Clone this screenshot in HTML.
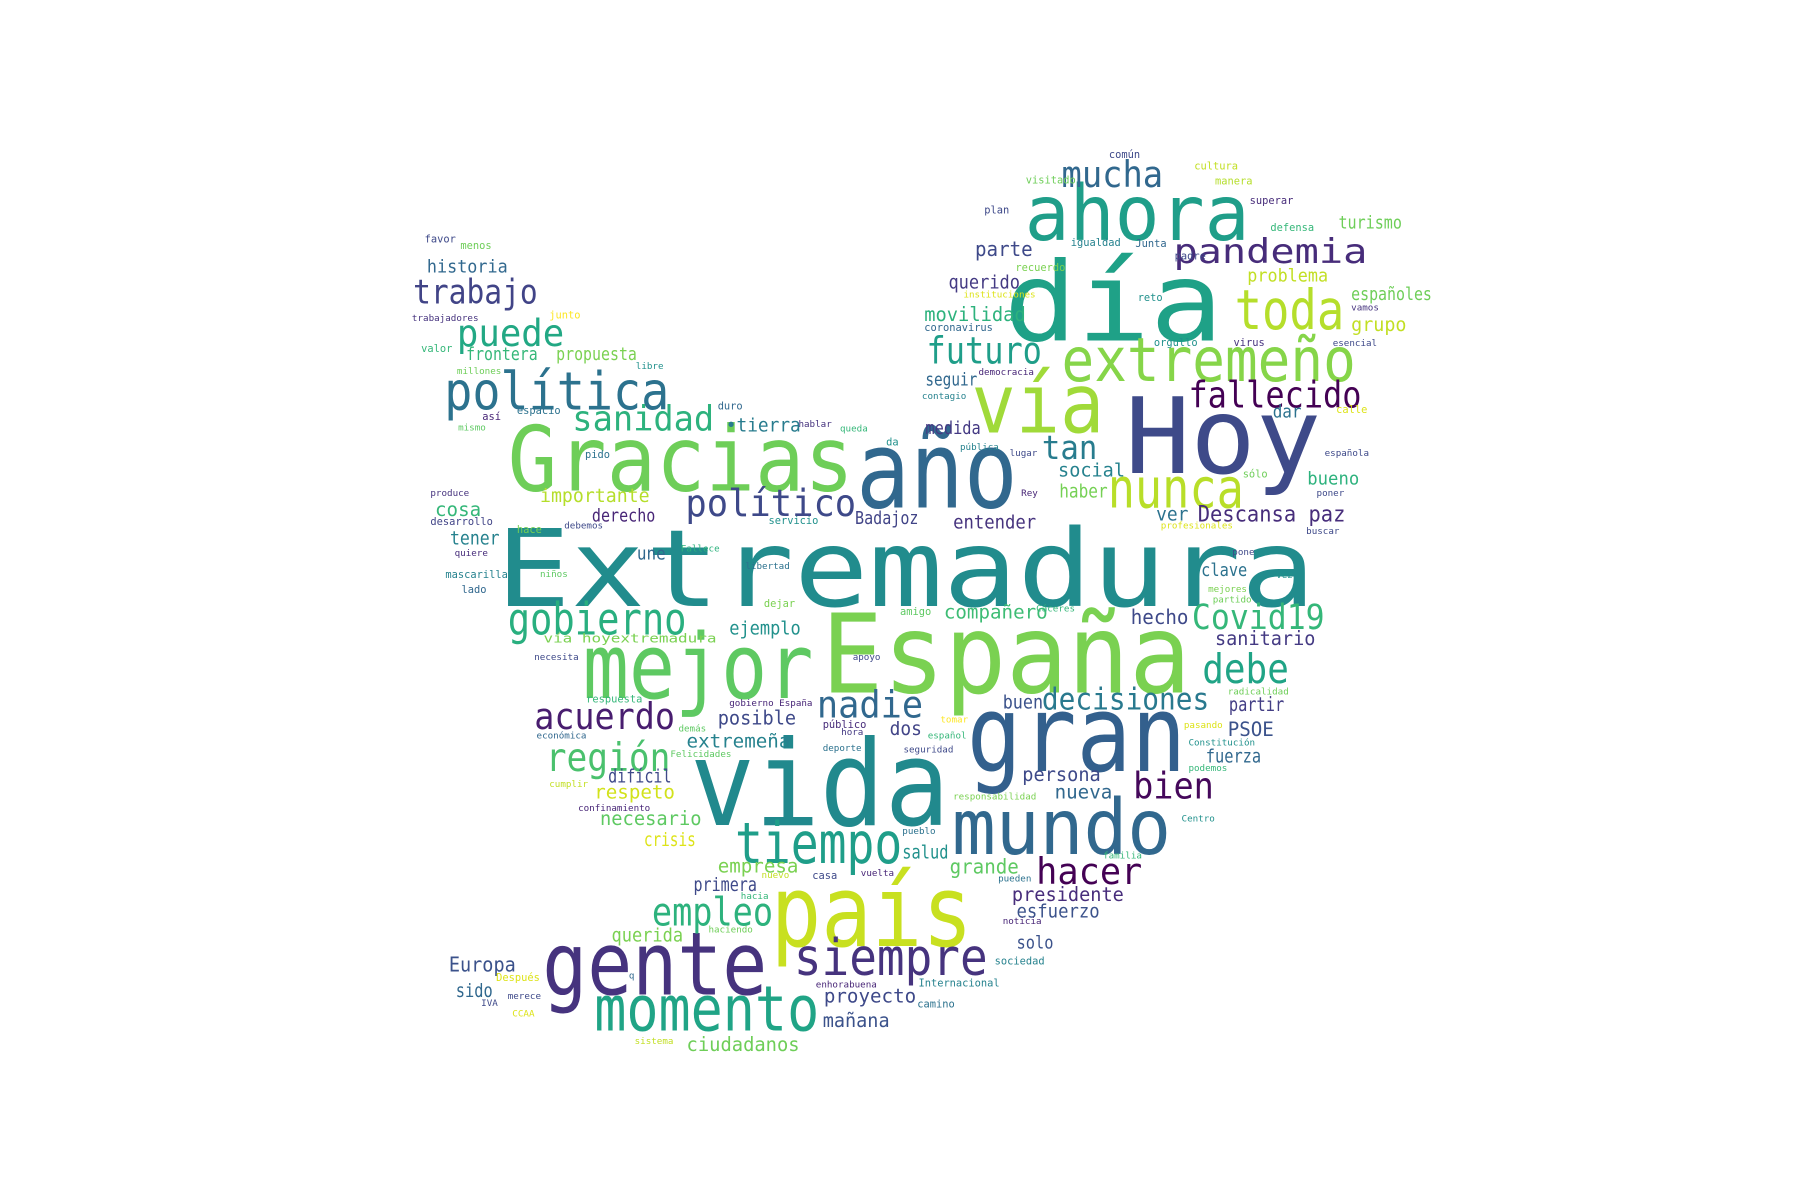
<!DOCTYPE html>
<html><head><meta charset="utf-8">
<style>
html,body{margin:0;padding:0;background:#fff;}
svg{display:block;}
text{font-family:"DejaVu Sans Mono","Liberation Mono",monospace;}
</style></head>
<body>
<svg id="cloud" width="1800" height="1200" viewBox="0 0 1560 1040" xmlns="http://www.w3.org/2000/svg">
<rect width="1560" height="1040" fill="#ffffff"/>
<g id="words"></g>
</svg>
<script>
// word, x, baseline y, font size, width (0 = natural), color
const words = [
["Extremadura",430,525,98,710,"#218c8d"],
["España",712,600,100,320,"#7ad151"],
["vida",598,715,108,225,"#21898d"],
["gran",838,668,97,190,"#33608d"],
["Hoy",975,410,96,170,"#3e4a89"],
["día",870,295,100,190,"#1fa187"],
["Gracias",440,425,82,300,"#6ece58"],
["año",742,440,98,140,"#31688e"],
["país",668,820,90,175,"#c8e020"],
["mejor",505,605,82,200,"#5ec962"],
["gente",470,862,80,195,"#46337e"],
["mundo",825,740,70,190,"#31688e"],
["ahora",888,208,70,195,"#1f9e89"],
["vía",842,375,75,115,"#a0da39"],
["momento",515,893,57,195,"#20a486"],
["tiempo",637,748,52,145,"#1f9e89"],
["toda",1070,285,50,95,"#b5de2b"],
["extremeño",920,330,55,255,"#86d549"],
["política",385,355,48,195,"#2c728e"],
["nunca",960,440,50,118,"#b8de29"],
["siempre",688,845,46,168,"#46337e"],
["Covid19",1033,545,32,115,"#35b779"],
["gobierno",440,550,41,155,"#29af7f"],
["acuerdo",463,632,33,122,"#481d6f"],
["región",473,668,36,108,"#4ac16d"],
["empleo",565,802,36,105,"#2db27d"],
["hacer",898,766,33,92,"#440154"],
["bien",982,692,33,70,"#45085b"],
["debe",1042,592,37,75,"#20a486"],
["nadie",708,622,34,92,"#31688e"],
["político",594,447,34,148,"#3e4989"],
["puede",396,300,34,93,"#22a884"],
["trabajo",358,263,31,108,"#414487"],
["pandemia",1017,228,31,168,"#472c7a"],
["mucha",920,162,33,88,"#31688e"],
["fallecido",1030,353,33,150,"#440154"],
["futuro",803,315,34,100,"#1f9e89"],
["sanidad",496,373,32,123,"#2db27d"],
["decisiones",903,615,26,145,"#29798e"],
["tan",903,398,30,48,"#287c8e"],
["Descansa paz",1038,452,19,128,"#472d7b"],
["presidente",877,781,17,97,"#472d7b"],
["esfuerzo",881,795,16,72,"#3b528b"],
["persona",886,677,17,68,"#3e4989"],
["nueva",914,692,17,50,"#31688e"],
["sanitario",1053,559,17,87,"#443a83"],
["partir",1065,616,17,48,"#433e85"],
["PSOE",1064,638,17,40,"#3b528b"],
["fuerza",1045,661,16,48,"#31688e"],
["hecho",980,541,18,50,"#3e4989"],
["compañero",818,536,16,90,"#3dbc74"],
["buen",869,614,16,35,"#3b528b"],
["dos",771,637,16,28,"#414487"],
["grande",823,757,18,60,"#5ec962"],
["salud",782,744,16,40,"#21918c"],
["posible",622,628,17,68,"#3e4989"],
["extremeña",595,648,16,90,"#26828e"],
["•",676,648,20,0,"#26828e"],
["ejemplo",632,550,16,62,"#21918c"],
["difícil",527,678,16,55,"#3e4989"],
["respeto",515,692,16,70,"#d2e21b"],
["necesario",520,715,17,88,"#5ec962"],
["crisis",558,733,16,45,"#dde318"],
["empresa",622,756,17,70,"#7ad151"],
["primera",601,772,16,55,"#3e4989"],
["querida",530,816,16,62,"#7ad151"],
["Europa",389,842,18,58,"#3b528b"],
["sido",395,864,16,32,"#31688e"],
["proyecto",714,869,17,80,"#3e4989"],
["mañana",713,890,17,58,"#3b528b"],
["ciudadanos",595,911,17,98,"#6ece58"],
["solo",881,822,15,32,"#3b528b"],
["movilidad",801,278,17,88,"#2db27d"],
["parte",845,222,18,50,"#3e4989"],
["querido",822,250,16,62,"#443a83"],
["seguir",802,334,15,45,"#31688e"],
["medida",802,376,15,48,"#443983"],
["social",917,413,16,58,"#26828e"],
["haber",918,431,16,42,"#75d054"],
["entender",826,458,16,72,"#46337e"],
["ver",1002,451,16,28,"#2c728e"],
["Badajoz",741,454,15,55,"#414487"],
["derecho",513,452,15,55,"#482677"],
["importante",468,435,16,95,"#b5de2b"],
["cosa",377,447,17,40,"#35b779"],
["tener",390,472,16,43,"#26828e"],
["historia",370,236,15,70,"#31688e"],
["frontera",404,312,15,62,"#35b779"],
["propuesta",482,312,15,70,"#7ad151"],
["•tierra",629,374,16,65,"#287c8e"],
["turismo",1160,198,15,55,"#6ece58"],
["problema",1081,244,15,70,"#c2df23"],
["españoles",1171,260,15,70,"#6ece58"],
["grupo",1171,287,16,48,"#c2df23"],
["bueno",1133,420,15,45,"#2db27d"],
["dar",1103,362,15,25,"#2c728e"],
["clave",1041,499,15,40,"#2c728e"],
["une",552,485,15,25,"#31688e"],
["vía hoyextremadura",471,557,11,150,"#7ad151"],
["común",961,137,9,0,"#3e4989"],["cultura",1035,147,9,0,"#c2df23"],["visitado",889,159,9,0,"#6ece58"],
["manera",1053,160,9,0,"#b5de2b"],["superar",1083,177,9,0,"#472c7a"],["plan",853,185,9,0,"#3e4989"],
["defensa",1101,200,9,0,"#35b779"],["favor",368,210,9,0,"#3e4989"],["menos",399,216,9,0,"#6ece58"],
["igualdad",928,213,9,0,"#26828e"],["Junta",984,214,9,0,"#31688e"],["padre",1018,225,9,0,"#3e4989"],
["recuerdo",880,235,9,0,"#7ad151"],["instituciones",835,258,8,0,"#dde318"],["reto",986,261,9,0,"#21918c"],
["vamos",1171,269,8,0,"#46337e"],["trabajadores",357,278,8,0,"#46337e"],["junto",476,276,9,0,"#fde725"],
["coronavirus",801,287,9,0,"#31688e"],["virus",1069,300,9,0,"#46337e"],["orgullo",1000,300,9,0,"#21918c"],
["esencial",1155,300,8,0,"#3e4989"],["valor",365,305,9,0,"#35b779"],["millones",396,324,8,0,"#6ece58"],
["libre",551,320,8,0,"#21918c"],["democracia",848,325,8,0,"#482677"],["contagio",799,346,8,0,"#26828e"],
["duro",622,355,9,0,"#31688e"],["calle",1158,358,9,0,"#dde318"],["así",418,364,9,0,"#482677"],
["espacio",448,359,9,0,"#2c728e"],["hablar",692,370,8,0,"#46337e"],["queda",728,374,8,0,"#35b779"],
["mismo",397,373,8,0,"#5ec962"],["da",768,386,9,0,"#21918c"],["pública",832,390,8,0,"#26828e"],
["lugar",875,395,8,0,"#3e4989"],["española",1148,395,8,0,"#3e4989"],["pido",507,397,9,0,"#2c728e"],
["sólo",1077,414,9,0,"#6ece58"],["produce",373,430,8,0,"#46337e"],["Rey",885,430,8,0,"#482677"],
["poner",1141,430,8,0,"#3e4989"],["desarrollo",373,455,9,0,"#414487"],["debemos",489,458,8,0,"#3e4989"],
["servicio",666,454,9,0,"#21918c"],["hace",448,462,9,0,"#75d054"],["profesionales",1006,458,8,0,"#dde318"],
["buscar",1132,463,8,0,"#3e4989"],["quiere",394,482,8,0,"#472d7b"],["Fallece",590,478,8,0,"#2db27d"],
["pone",1068,481,8,0,"#3e4989"],["libertad",646,493,8,0,"#2c728e"],["niños",468,500,8,0,"#5ec962"],
["vez",1106,501,8,0,"#21918c"],["mascarilla",386,501,9,0,"#26828e"],["mejores",1047,513,8,0,"#7ad151"],
["lado",400,514,9,0,"#31688e"],["partido",1051,522,8,0,"#6ece58"],["dejar",662,526,9,0,"#7ad151"],
["amigo",780,533,9,0,"#5ec962"],["Cáceres",898,530,8,0,"#35b779"],["necesita",463,572,8,0,"#3e4989"],
["apoyo",739,572,8,0,"#3e4989"],["respuesta",508,609,9,0,"#35b779"],["radicalidad",1064,602,8,0,"#6ece58"],
["gobierno España",632,612,8,0,"#482677"],["tomar",815,626,8,0,"#fde725"],["público",713,631,9,0,"#472c7a"],
["demás",588,634,8,0,"#5ec962"],["hora",729,637,8,0,"#443983"],["pasando",1026,631,8,0,"#dde318"],
["económica",465,640,8,0,"#31688e"],["español",804,640,8,0,"#35b779"],["Constitución",1030,646,8,0,"#21918c"],
["deporte",713,651,8,0,"#2c728e"],["seguridad",783,652,8,0,"#3e4989"],["Felicidades",581,656,8,0,"#5ec962"],
["podemos",1030,668,8,0,"#35b779"],["cumplir",476,682,8,0,"#c2df23"],["responsabilidad",826,693,8,0,"#7ad151"],
["confinamiento",501,703,8,0,"#482677"],["Centro",1024,712,8,0,"#21918c"],["pueblo",782,723,8,0,"#2c728e"],
["familia",956,744,8,0,"#35b779"],["nuevo",660,761,8,0,"#c2df23"],["casa",704,762,9,0,"#3e4989"],
["vuelta",746,759,8,0,"#482677"],["pueden",865,764,8,0,"#2c728e"],["hacia",642,779,8,0,"#35b779"],
["noticia",869,801,8,0,"#482677"],["haciendo",614,808,8,0,"#6ece58"],["sociedad",862,836,9,0,"#26828e"],
["Después",430,850,9,0,"#dde318"],["q",545,848,8,0,"#31688e"],["enhorabuena",707,856,8,0,"#482677"],
["Internacional",796,855,9,0,"#26828e"],["merece",440,866,8,0,"#3e4989"],["IVA",417,872,8,0,"#3e4989"],
["camino",795,873,9,0,"#2c728e"],["CCAA",444,881,8,0,"#dde318"],["sistema",550,905,8,0,"#c2df23"]
];
const g = document.getElementById('words');
const NS = 'http://www.w3.org/2000/svg';
words.forEach(function(w){
  const t = document.createElementNS(NS,'text');
  const fs = w[3] >= 30 ? w[3] * 0.95 : w[3];
  t.setAttribute('x', w[1]);
  t.setAttribute('y', w[2]);
  t.setAttribute('font-size', fs);
  t.setAttribute('fill', w[5]);
  if (w[4] > 0) { t.setAttribute('textLength', w[4]); t.setAttribute('lengthAdjust','spacingAndGlyphs'); }
  t.textContent = w[0];
  
  
  g.appendChild(t);
});
</script>
</body></html>
